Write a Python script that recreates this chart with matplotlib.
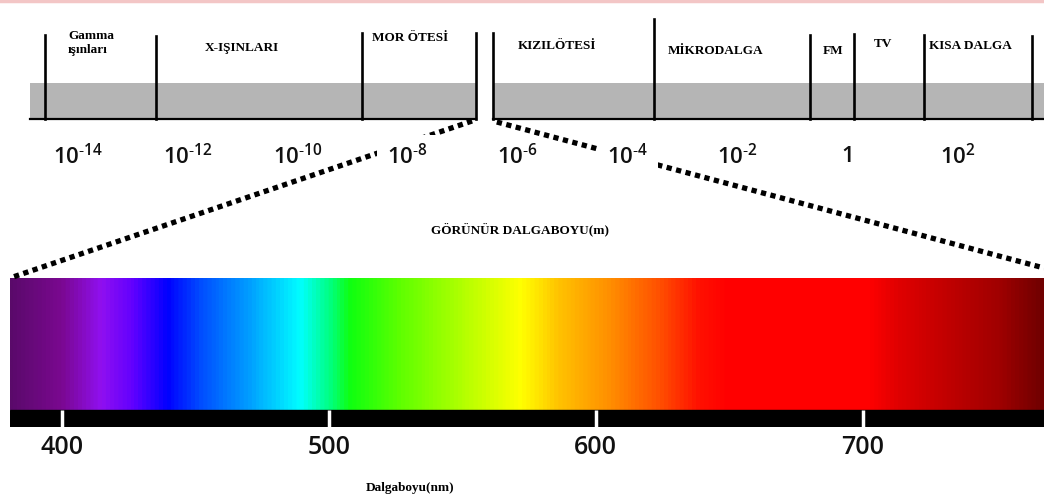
import matplotlib
matplotlib.use('Agg')
import matplotlib.pyplot as plt
import numpy as np
from matplotlib.colors import LinearSegmentedColormap
from matplotlib.patches import ConnectionPatch

plt.rcParams['mathtext.default'] = 'regular'

# electromagnetic band (log10 of wavelength in m)
band_left = [-14.87, -6.758]
band_right = [-6.449, 3.57]
bounds = [-14.595, -12.576, -8.831, -6.758, -6.449, -3.522, -0.685, 0.115, 1.387, 3.351]
bound_tops = [35, 36, 33, 33, 33, 19, 35, 34, 35, 36]
names = ['Gamma\nışınları', 'X-IŞINLARI', 'MOR ÖTESİ', 'KIZILÖTESİ',
         'MİKRODALGA', 'FM', 'TV', 'KISA DALGA']
name_pos = [-14.176, -11.01, -7.958, -5.285, -2.395, -0.267, 0.642, 2.224]
name_y = [43, 48, 38, 46, 51, 51, 44, 46]
exps = [-14, -12, -10, -8, -6, -4, -2, 0, 2]
exp_labels = ['$10^{\u201014}$', '$10^{\u201012}$', '$10^{\u201010}$', '$10^{\u20108}$',
              '$10^{\u20106}$', '$10^{\u20104}$', '$10^{\u20102}$', '1', '$10^{2}$']
masked = [-8, -4]  # labels that hide the dotted lines

# visible spectrum (nm)
spec_nm = [380, 399, 414, 426, 439, 452, 470, 489, 500, 508, 527, 545, 572, 587,
           605, 624, 639, 650, 703, 714, 733, 752, 768]
spec_col = ['#5a0a6a', '#7a0890', '#9010f0', '#6000ff', '#0000ff', '#0050ff', '#00a0ff',
            '#00ffff', '#00ff80', '#10ff10', '#60ff00', '#a0ff00', '#ffff00', '#ffc000',
            '#ff9000', '#ff5000', '#ff1000', '#ff0000', '#ff0000', '#e00000', '#c00000',
            '#a00000', '#700000']
nm_ticks = [400, 500, 600, 700]
nm_min, nm_max = 380.5, 768

W, H = 1044, 497
fig = plt.figure(figsize=(W / 100, H / 100), dpi=100)

# ---- top band
ax = fig.add_axes([0, 1 - 180 / H, 1, 180 / H], zorder=3)
ax.set_xscale('log')
ax.set_xlim(10 ** -15.413, 10 ** 3.569)
ax.set_ylim(180, 0)
ax.axis('off')
ax.axhline(1, color='#f3c6c6', lw=2.5)
for a, b in [band_left, band_right]:
    ax.fill_between([10 ** a, 10 ** b], 83, 119, color='#b5b5b5', lw=0)
    ax.plot([10 ** a, 10 ** b], [119, 119], color='black', lw=1.6)
for b, t in zip(bounds, bound_tops):
    ax.plot([10 ** b, 10 ** b], [t, 119], color='black', lw=1.9)
for i, (n, p, y) in enumerate(zip(names, name_pos, name_y)):
    ax.text(10 ** p, y, n, ha='left' if i == 0 else 'center', va='center',
            multialignment='left', family='Liberation Serif',
            weight='bold', fontsize=9.5, linespacing=1.3)
for e, lab in zip(exps, exp_labels):
    box = dict(facecolor='white', edgecolor='none', pad=7) if e in masked else None
    ax.text(10 ** e, 157, lab, ha='center', va='center', family='Open Sans',
            weight='semibold', fontsize=16, color='#111111', bbox=box)

# ---- spectrum
ax2 = fig.add_axes([10 / W, (H - 427) / H, (W - 10) / W, 149 / H], zorder=1)
cmap = LinearSegmentedColormap.from_list(
    'spec', [((n - spec_nm[0]) / (spec_nm[-1] - spec_nm[0]), c) for n, c in zip(spec_nm, spec_col)])
grad = np.linspace(spec_nm[0], spec_nm[-1], 1000)[None, :]
ax2.imshow(grad, extent=(spec_nm[0], spec_nm[-1], 0, 132), cmap=cmap, aspect='auto',
           vmin=spec_nm[0], vmax=spec_nm[-1])
ax2.axhspan(-17, 0, color='black')
ax2.vlines(nm_ticks, -17, 0, colors='white', lw=2.5)
ax2.set_xlim(nm_min, nm_max)
ax2.set_ylim(-17, 132)
for s in ax2.spines.values():
    s.set_visible(False)
ax2.set_yticks([])
ax2.set_xticks(nm_ticks)
ax2.set_xticklabels([str(t) for t in nm_ticks], family='Open Sans', weight='semibold',
                    fontsize=18, color='#111111')
ax2.tick_params(axis='x', length=0, pad=6)

fig.text(520 / W, 1 - 230 / H, 'GÖRÜNÜR DALGABOYU(m)', ha='center', va='center',
         family='Liberation Serif', weight='bold', fontsize=9.5)
fig.text(410 / W, 1 - 488 / H, 'Dalgaboyu(nm)', ha='center', va='center',
         family='Liberation Serif', weight='bold', fontsize=9.5)

# dotted connectors
for xa, ya, xb, yb in [(10 ** -6.83, 121, nm_min, 132), (10 ** -6.38, 122, nm_max, 142)]:
    con = ConnectionPatch(xyA=(xa, ya), coordsA=ax.transData, xyB=(xb, yb),
                          coordsB=ax2.transData, color='black', lw=3.8,
                          linestyle=(0, (1, 0.85)), capstyle='butt', zorder=2)
    fig.add_artist(con)

fig.savefig('out.png', dpi=100)
